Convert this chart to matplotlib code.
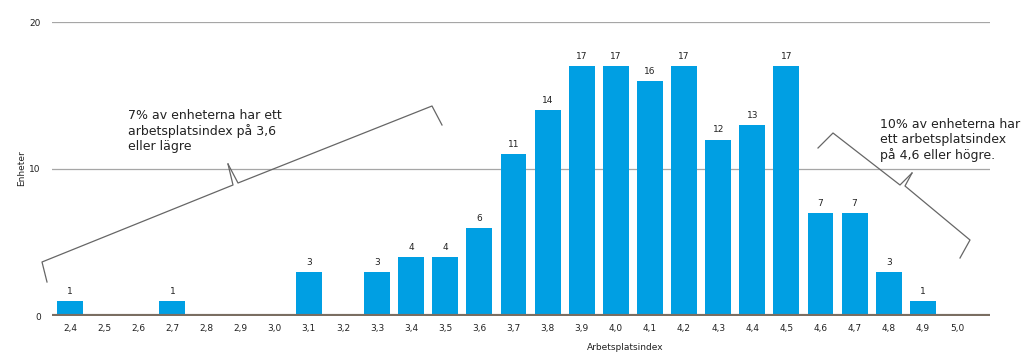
import matplotlib.pyplot as plt
import numpy as np
from matplotlib.lines import Line2D

# Data
kategorier = ["2,4", "2,5", "2,6", "2,7", "2,8", "2,9", "3,0", "3,1", "3,2", "3,3",
              "3,4", "3,5", "3,6", "3,7", "3,8", "3,9", "4,0", "4,1", "4,2", "4,3",
              "4,4", "4,5", "4,6", "4,7", "4,8", "4,9", "5,0"]
enheter = [1, 0, 0, 1, 0, 0, 0, 3, 0, 3,
           4, 4, 6, 11, 14, 17, 17, 16, 17, 12,
           13, 17, 7, 7, 3, 1, 0]
yticks = [0, 10, 20]

W, H = 1024, 354
fig = plt.figure(figsize=(W / 100, H / 100), dpi=100)
ax = fig.add_axes([52 / W, 1 - 316 / H, (990 - 52) / W, (316 - 22) / H])

x = np.arange(len(kategorier))
ax.bar(x, enheter, width=0.76, color="#009FE3", zorder=2)
for xi, v in zip(x, enheter):
    if v > 0:
        ax.text(xi, v + 0.35, str(v), ha="center", va="bottom", fontsize=6.5, color="#222222")

ax.set_xlim(-0.53, 26.97)
ax.set_ylim(0, 20)
ax.set_xticks(x)
ax.set_xticklabels(kategorier, fontsize=6.5, color="#222222")
ax.set_yticks(yticks)
ax.set_yticklabels([str(t) for t in yticks], fontsize=6.5, color="#222222")
ax.tick_params(length=0, pad=6)
ax.tick_params(axis="y", pad=8)

for t in yticks[1:]:
    ax.axhline(t, color="#a6a6a6", linewidth=0.9, zorder=1)
ax.axhline(0, color="#7a6e62", linewidth=3, zorder=3)

for s in ax.spines.values():
    s.set_visible(False)

fig.text(625 / W, 1 - 348 / H, "Arbetsplatsindex", fontsize=6.5, color="#222222",
         ha="center", va="center")
fig.text(22 / W, 1 - 168 / H, "Enheter", fontsize=6.5, color="#222222",
         ha="center", va="center", rotation=90)


# Klamrar (i pixelkoordinater)
def klammer(punkter):
    px = [p[0] / W for p in punkter]
    py = [1 - p[1] / H for p in punkter]
    fig.add_artist(Line2D(px, py, transform=fig.transFigure, color="#666666", linewidth=0.9))


klammer([(47, 282), (42, 262), (233, 185), (228, 164)])
klammer([(228, 164), (238, 183), (432, 106), (442, 125)])
klammer([(818, 148), (833, 133), (900, 185), (912, 173)])
klammer([(912, 173), (905, 186), (970, 240), (960, 258)])

fig.text(128 / W, 1 - 109 / H, "7% av enheterna har ett\narbetsplatsindex på 3,6\neller lägre",
         fontsize=9, va="top", ha="left", color="#222222", linespacing=1.2)
fig.text(880 / W, 1 - 118 / H, "10% av enheterna har\nett arbetsplatsindex\npå 4,6 eller högre.",
         fontsize=9, va="top", ha="left", color="#222222", linespacing=1.2)

fig.savefig("out.png", dpi=100)
